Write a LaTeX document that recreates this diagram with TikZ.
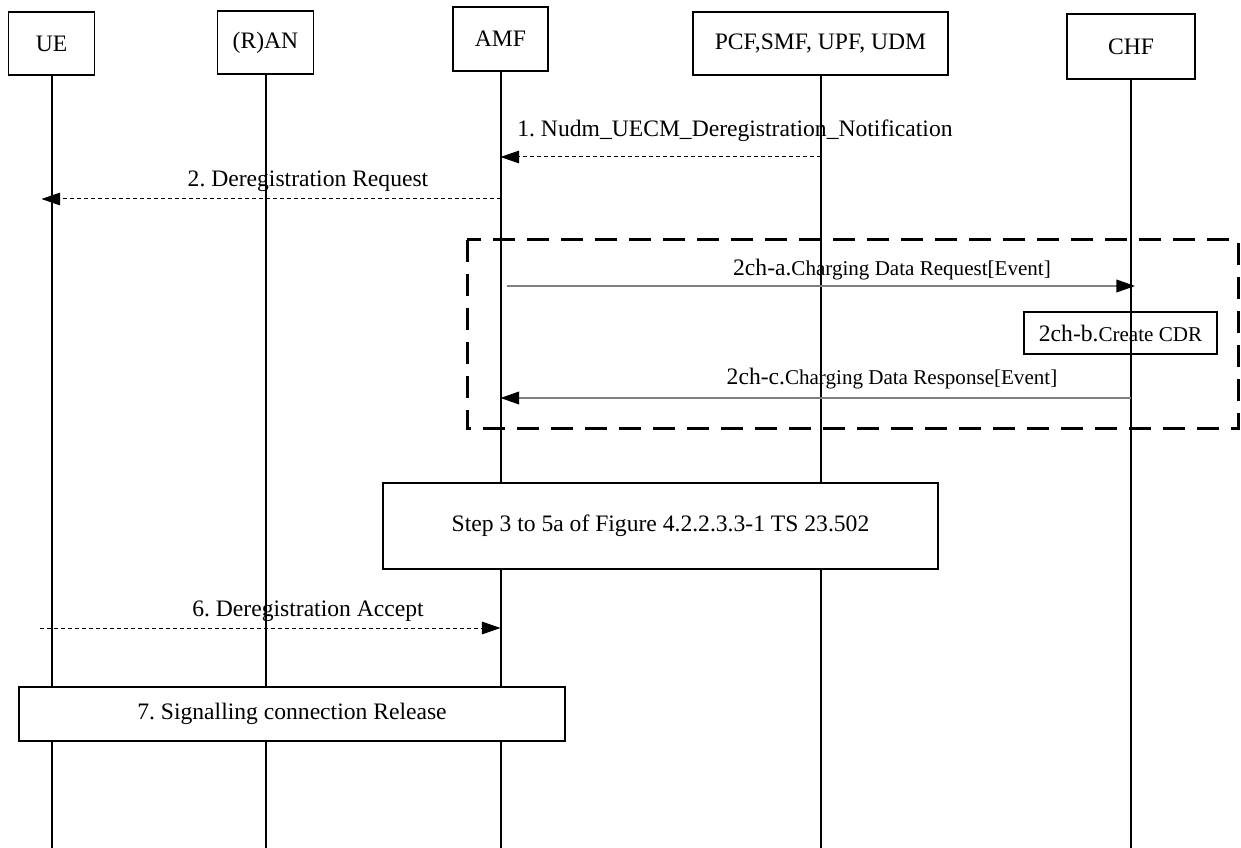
\documentclass[tikz,border=0pt]{standalone}
\usepackage{fontspec}
\setmainfont{Liberation Serif}
\usetikzlibrary{arrows.meta}
\tikzset{every picture/.style={line width=0.75pt}}
\newcommand{\smallfs}{\fontsize{15.8}{18}\selectfont}
\frenchspacing

\begin{document}
\begin{tikzpicture}[x=0.75pt,y=0.75pt,yscale=-1,xscale=1,
		font=\fontsize{17.7}{21}\selectfont,
		entity/.style={draw,line width=1pt,fill=white,inner sep=0pt,minimum height=47.25pt},
		lifeline/.style={line width=1.5pt},
		stepbox/.style={draw,line width=1pt,fill=white,inner sep=0pt},
		lbl/.style={inner sep=0pt,anchor=base},
		dashmsg/.style={dash pattern=on 3pt off 2.25pt,-{Triangle[length=14pt,width=9.5pt]}},
		chgmsg/.style={color={rgb, 255:red, 128; green, 128; blue, 128},line width=1.25pt,-{Triangle[length=14pt,width=9.5pt,black]}},
		groupbox/.style={line width=2.25pt,dash pattern=on 16.5pt off 9pt}]
		
		\path[use as bounding box,fill=white] (0,0) rectangle (1241,848);
		
		\node[entity,minimum width=64.5pt] (ue) at (51.5,43.5) {UE};
		\node[entity,minimum width=72pt] (ran) at (265.5,42.5) {(R)AN};
		\node[entity,minimum width=71.25pt,minimum height=48pt] (amf) at (500.5,39) {AMF};
		\node[entity,minimum width=191.25pt] (pcf) at (820.5,43.5) {PCF,SMF, UPF, UDM};
		\node[entity,minimum width=96pt,minimum height=48.75pt] (chf) at (1131,46.5) {CHF};
		
		\foreach \n in {ue,ran,amf,pcf,chf}
			\draw[lifeline] (\n.south) -- (\n.south |- 0,848);
		
		\draw[dashmsg] (pcf.south |- 0,157) -- (amf.south |- 0,157);
		\node[lbl] (m1) at (735,137) {1. Nudm\_UECM\_Deregistration\_Notification};
		
		\draw[dashmsg,shorten >=-7.5pt] (amf.south |- 0,199) -- (ue.south |- 0,199);
		\node[lbl] (m2) at (308,187) {2. Deregistration Request};
		
		\draw[groupbox] (467,240) rectangle (1238,428);
		
		\draw[chgmsg,shorten <=4.5pt,shorten >=-3pt] (amf.south |- 0,286) -- (chf.south |- 0,286);
		\node[lbl] (m2a) at (892,276) {2ch-a.{\smallfs Charging Data Request[Event]}};
		\node[stepbox,fill=none,minimum width=144.75pt,minimum height=31.5pt] (m2b) at (1120.5,333) {2ch-b.{\smallfs Create CDR}};
		\draw[chgmsg] (chf.south |- 0,398) -- (amf.south |- 0,398);
		\node[lbl] (m2c) at (892,384) {2ch-c.{\smallfs Charging Data Response[Event]}};
		
		\node[stepbox,minimum width=416.25pt,minimum height=64.5pt] (s35) at (660.5,526) {Step 3 to 5a of Figure 4.2.2.3.3-1 TS 23.502};
		
		\draw[dashmsg,shorten <=-8.5pt] (ue.south |- 0,628) -- (amf.south |- 0,628);
		\node[lbl] (m6) at (308,616) {6. Deregistration Accept};
		
		\node[stepbox,minimum width=409.5pt,minimum height=40.5pt] (s7) at (292,714) {7. Signalling connection Release};
		
	\end{tikzpicture}
\end{document}
